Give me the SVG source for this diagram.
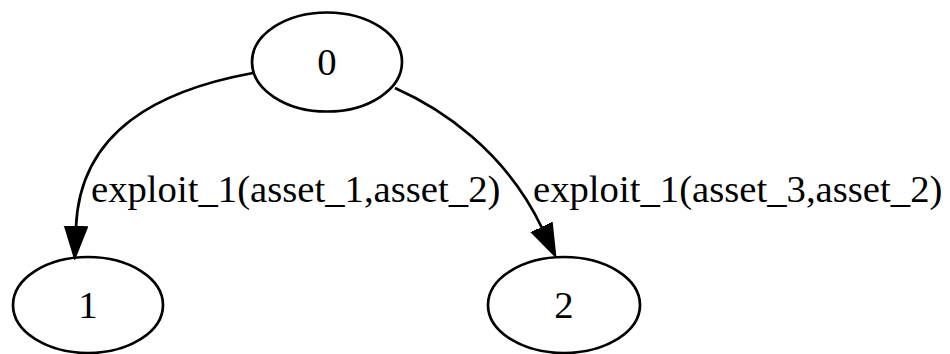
<svg xmlns="http://www.w3.org/2000/svg" width="950" height="354" viewBox="0 0 950 354">
<style>
.node ellipse{fill:none;stroke:#000;stroke-width:2.7}
text{font-family:"Liberation Serif","Times New Roman",serif;font-size:38.7px;fill:#000}
.node text{text-anchor:middle}
.edge path{fill:none;stroke:#000;stroke-width:2.7}
</style>
<defs>
<marker id="arr" markerUnits="userSpaceOnUse" markerWidth="34" markerHeight="26" refX="1" refY="12" orient="auto" viewBox="0 0 34 26">
<path d="M1,1.5 L31,12 L1,22.5 Z" fill="#000" stroke="#000" stroke-width="2.7"/>
</marker>
</defs>
<rect width="950" height="354" fill="#fff"/>
<g id="edges">
<g class="edge" id="e0_1">
<path d="M253,73 C160,90 80,130 76,227" marker-end="url(#arr)"/>
<text x="91" y="202">exploit_1(asset_1,asset_2)</text>
</g>
<g class="edge" id="e0_2">
<path d="M395,88 C440,108 505,150 542,228" marker-end="url(#arr)"/>
<text x="533" y="202">exploit_1(asset_3,asset_2)</text>
</g>
</g>
<g class="node" id="n0">
<ellipse cx="327" cy="62" rx="75" ry="49.5"/>
<text x="327" y="75">0</text>
</g>
<g class="node" id="n1">
<ellipse cx="88" cy="305" rx="75" ry="48"/>
<text x="88" y="318">1</text>
</g>
<g class="node" id="n2">
<ellipse cx="564" cy="305" rx="76" ry="48"/>
<text x="564" y="318">2</text>
</g>
</svg>
